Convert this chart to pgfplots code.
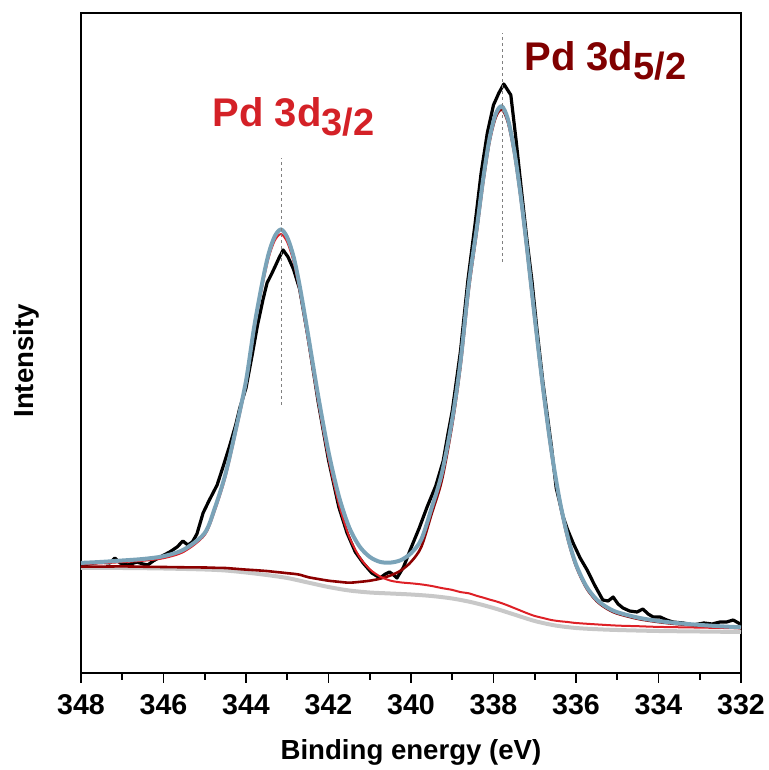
\documentclass[border=0pt]{standalone}
\usepackage{pgfplots}
\pgfplotsset{compat=1.18}
\usepackage{fontspec}
\setmainfont{Liberation Sans}
\definecolor{envblue}{RGB}{122,163,184}
\definecolor{fitred}{RGB}{222,32,38}
\definecolor{fitdark}{RGB}{140,0,0}
\definecolor{bggray}{RGB}{200,200,200}
\definecolor{labred}{RGB}{212,33,39}
\definecolor{labdark}{RGB}{128,0,0}
\begin{document}
\begin{tikzpicture}
\begin{axis}[
  scale only axis, width=330pt, height=330pt,
  xmin=332, xmax=348, ymin=0, ymax=660, x dir=reverse,
  xtick={332,334,...,348}, minor x tick num=1,
  ytick=\empty,
  xtick pos=bottom, tick align=outside,
  major tick length=5pt, minor tick length=3.5pt,
  axis line style={line width=1pt},
  tick style={black, line width=0.9pt},
  /pgf/number format/assume math mode=true,
  xticklabel style={font=\bfseries\fontsize{14.3}{17}\selectfont, yshift=-2pt},
  xlabel={Binding energy (eV)}, ylabel={Intensity},
  label style={font=\bfseries\fontsize{13.8}{16}\selectfont},
  xlabel style={at={(axis description cs:0.5,-0.12)}, anchor=center},
  ylabel style={at={(axis description cs:-0.083,0.473)}, anchor=center},
]
% measured spectrum
\addplot[black, line width=1.6pt, line join=round] coordinates {
(348,108) (347.8,109) (347.54,111) (347.3,110) (347.18,115) (347.05,110) (346.88,108)
(346.64,111) (346.5,109) (346.38,108) (346.25,112) (346.08,116) (345.85,121) (345.67,126)
(345.53,132) (345.41,128) (345.3,131) (345.19,139) (345.04,160) (344.9,172) (344.7,188)
(344.55,207) (344.39,228) (344.25,248) (344.15,265) (344.0,285) (343.85,318) (343.72,348)
(343.59,373) (343.49,390) (343.38,399) (343.3,406) (343.2,415) (343.1,423) (342.98,416)
(342.85,404) (342.7,384) (342.5,337) (342.25,271) (342.0,213) (341.75,166) (341.55,140)
(341.35,121) (341.16,110) (340.95,100) (340.75,95) (340.62,99) (340.52,101) (340.42,98)
(340.34,95) (340.18,106) (340.02,123) (339.8,145) (339.61,166) (339.4,187) (339.22,212)
(339.1,240) (339.0,262) (338.8,322) (338.62,393) (338.45,448) (338.3,500) (338.15,540)
(338.0,568) (337.87,580) (337.75,589) (337.58,578) (337.45,532) (337.36,497) (337.2,437)
(337.07,393) (336.95,345) (336.8,290) (336.6,228) (336.48,185) (336.31,156) (336.2,143)
(336.07,130) (335.9,115) (335.73,103) (335.55,88) (335.35,73) (335.22,72) (335.1,76)
(334.98,69) (334.86,65) (334.7,62) (334.52,61) (334.38,64) (334.25,59) (334.13,56)
(333.96,56) (333.8,53) (333.65,51) (333.4,50) (333.16,48) (332.9,50) (332.7,49)
(332.51,51) (332.35,51) (332.19,53) (332.02,49)
};
% background
\addplot[bggray, line width=2pt, smooth] coordinates {
(348,105) (347,105) (346,104.5) (345,103.5) (344.5,102.5) (344,100.5) (343.5,98) (343,95)
(342.5,90.5) (342,86) (341.5,82.5) (341,80.5) (340.5,79.5) (340,78.5) (339.5,77) (339,74.5)
(338.5,70.5) (338,65) (337.5,58.5) (337,52) (336.5,47.5) (336,45) (335.5,43.8) (335,43)
(334,42) (333,41.5) (332,41)
};
% Pd 3d5/2 component
\addplot[fitdark, line width=1.3pt, smooth] coordinates {
(348,106.3) (347.5,106.4) (347,106.6) (346.5,106.3) (346,106) (345.5,105.7) (345,105.5)
(344.75,105.2) (344.5,105) (344.25,104.2) (344,103.4) (343.8,102.9) (343.6,102.3)
(343.45,101.8) (343.3,101.1) (343.15,100.5) (343,99.8) (342.85,99.2) (342.7,98.3)
(342.5,95.9) (342.25,94) (342,92.3) (341.75,91.2) (341.5,90.3) (341.25,91.1) (341,92.3)
(340.75,94.3) (340.5,97.5) (340.25,102.4) (340,111.1) (339.75,126.1) (339.5,159)
(339.25,193) (339,248.6) (338.8,306.7) (338.6,383) (338.4,442.9) (338.25,490.3)
(338.1,530.2) (337.95,555.2) (337.8,563.5) (337.65,550.7) (337.5,520.5) (337.35,477.6)
(337.2,426.3) (337,352.9) (336.8,282.9) (336.6,221.2) (336.4,171.6) (336.2,134.1)
(336,106.8) (335.75,85) (335.5,71.9) (335.25,64.2) (335,59.4) (334.5,54.1) (334,50.9)
(333.5,48.7) (333,47.2) (332.5,45.9) (332,45)
};
% Pd 3d3/2 component
\addplot[fitred, line width=1pt, smooth] coordinates {
(348,108.8) (347.5,109.7) (347,110.9) (346.5,112.2) (346,114.8) (345.5,121.4) (345,138)
(344.75,162.9) (344.5,195.6) (344.25,239.8) (344,289) (343.8,342.8) (343.6,387.6)
(343.45,415.3) (343.3,432.6) (343.15,438.9) (343,430.8) (342.85,411.7) (342.7,382.1)
(342.5,333.6) (342.25,270.6) (342,213.9) (341.75,168.8) (341.5,136.5) (341.25,116.1)
(341,103.8) (340.75,96.5) (340.5,92.4) (340.25,90.6) (340,89.7) (339.75,88.6) (339.5,87)
(339.25,84.9) (339,83.1) (338.8,80.9) (338.6,79.7) (338.4,77.1) (338.25,75.4) (338.1,73.5)
(337.95,71.8) (337.8,69.8) (337.65,67.5) (337.5,65) (337.35,62.5) (337.2,60) (337,57)
(336.8,55) (336.6,53) (336.4,51.8) (336.2,51) (336,50) (335.5,48.6) (335,47.4)
(334.5,46.8) (334,46.1) (333,45.4) (332,44.7)
};
% envelope
\addplot[envblue, line width=2pt, smooth] coordinates {
(348,110.1) (347.5,111.1) (347,112.5) (346.5,114) (346,116.8) (345.5,123.6) (345,140)
(344.75,165.6) (344.5,198.6) (344.25,243) (344,292) (343.8,346.5) (343.6,391.5)
(343.45,419.4) (343.3,436.9) (343.15,443.5) (343,435.6) (342.85,416.8) (342.7,387.5)
(342.5,339.5) (342.25,277.1) (342,221.2) (341.75,177) (341.5,145.8) (341.25,126.7)
(341,116.1) (340.75,111.1) (340.5,110.4) (340.25,112.8) (340,119.8) (339.75,133.5)
(339.5,165) (339.25,200) (339,253.7) (338.8,311.4) (338.6,388) (338.4,446.8)
(338.25,494.2) (338.1,533.7) (337.95,558.6) (337.8,566.7) (337.65,553.7) (337.5,523.4)
(337.35,480.4) (337.2,429) (337,355.3) (336.8,285.2) (336.6,223.3) (336.4,173.6)
(336.2,136) (336,108.6) (335.75,86.7) (335.5,73.5) (335.25,65.7) (335,60.8) (334.5,55.4)
(334,52) (333.5,49.7) (333,48.1) (332.5,46.7) (332,45.7)
};
% peak position markers
\addplot[gray, line width=0.6pt, dash pattern=on 1.5pt off 1.5pt] coordinates {(343.13,268) (343.13,515)};
\addplot[gray, line width=0.6pt, dash pattern=on 1.5pt off 1.5pt] coordinates {(337.79,411) (337.79,640)};
\node[anchor=base west, inner sep=0pt, text=labred, font=\bfseries] at (axis cs:344.82,546)
  {\fontsize{20}{24}\selectfont Pd 3d\raisebox{-4.5pt}{\fontsize{19}{22}\selectfont 3/2}};
\node[anchor=base west, inner sep=0pt, text=labdark, font=\bfseries] at (axis cs:337.26,602)
  {\fontsize{20}{24}\selectfont Pd 3d\raisebox{-4.5pt}{\fontsize{19}{22}\selectfont 5/2}};
\end{axis}
\pgfresetboundingbox
\path[use as bounding box] (-40.5pt,-48.5pt) rectangle (344pt,336.5pt);
\end{tikzpicture}
\end{document}
